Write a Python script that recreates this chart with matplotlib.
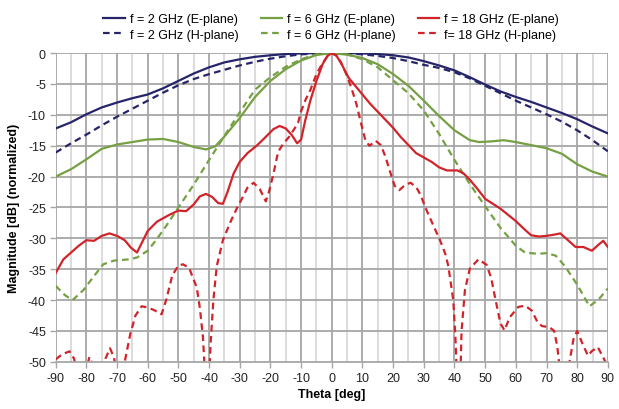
import numpy as np
import matplotlib
matplotlib.use('Agg')
import matplotlib.pyplot as plt

plt.rcParams['font.family'] = ['Liberation Sans', 'DejaVu Sans']
plt.rcParams['axes.unicode_minus'] = False

# --- data ------------------------------------------------------------------
th_2e = [-90, -85, -80, -75, -70, -65, -60, -55, -50, -45, -40, -35, -30, -25, -20, -15, -10, -5, 0,
         5, 10, 15, 20, 25, 30, 35, 40, 45, 50, 55, 60, 65, 70, 75, 80, 85, 90]
db_2e = [-12.2, -11.2, -9.9, -8.8, -8.0, -7.3, -6.7, -5.7, -4.5, -3.3, -2.3, -1.5, -1.0, -0.6, -0.35, -0.15, -0.05, 0, 0,
         0, -0.05, -0.15, -0.35, -0.7, -1.3, -2.0, -2.8, -3.9, -5.1, -6.2, -7.1, -7.9, -8.8, -9.7, -10.7, -11.9, -13.0]

th_2h = th_2e
db_2h = [-16.1, -14.6, -13.2, -11.7, -10.3, -9.0, -7.7, -6.4, -5.2, -4.2, -3.4, -2.7, -2.0, -1.4, -0.9, -0.5, -0.2, -0.05, 0,
         -0.05, -0.2, -0.45, -0.8, -1.3, -1.9, -2.4, -3.1, -4.1, -5.3, -6.5, -7.7, -8.8, -9.9, -11.1, -12.5, -14.1, -15.9]

th_6e = [-90, -85, -80, -75, -70, -65, -60, -55, -50, -45, -41, -38, -35, -32, -30, -25, -20, -15, -10, -5, 0,
         5, 10, 15, 20, 25, 30, 35, 40, 45, 48, 52, 56, 60, 65, 70, 75, 80, 85, 90]
db_6e = [-20.0, -18.8, -17.2, -15.5, -14.8, -14.4, -14.0, -13.9, -14.4, -15.2, -15.6, -15.1, -13.5, -11.7, -10.5, -7.1, -4.5, -2.6, -1.2, -0.3, 0,
         -0.25, -0.8, -1.8, -3.4, -5.3, -7.7, -10.2, -12.5, -14.1, -14.4, -14.3, -14.1, -14.4, -14.9, -15.4, -16.3, -18.0, -19.2, -20.0]

th_6h = [-90, -87, -84.5, -81, -77.5, -74.5, -71, -66, -63.5, -60, -57, -54, -50, -45, -40, -35, -30, -25, -20, -15, -10, -5, 0,
         5, 10, 15, 20, 25, 30, 35, 40, 45, 50, 55, 60, 63, 67, 70, 73, 76, 80, 84, 87, 90]
db_6h = [-37.7, -39.2, -40.0, -38.4, -36.1, -34.2, -33.6, -33.4, -33.1, -32.0, -30.1, -28.0, -25.0, -21.3, -17.3, -13.4, -9.6, -5.9, -3.9, -2.2, -1.0, -0.2, 0,
         -0.2, -1.0, -2.3, -4.4, -6.5, -9.3, -13.1, -17.3, -21.2, -24.8, -28.3, -31.2, -32.3, -32.5, -32.4, -32.8, -34.5, -37.5, -41.0, -39.9, -38.1]

th_18e = [-90, -87.5, -85, -82.5, -80, -77.5, -75, -72.5, -70, -67.5, -65.5, -63.5, -61.5, -60, -57, -53, -50, -47.5, -45,
          -43, -41, -39, -37, -35.5, -34, -32, -30, -27.5, -24.5, -22, -19, -17, -15, -13, -11.3, -10, -8.7, -7, -5, -3, -1.5, 0,
          1.5, 3, 5.5, 8, 10, 12.5, 15, 17.5, 20, 22.5, 25, 27.5, 30, 32.5, 35, 37.5, 41, 43, 45, 47.5, 50, 52.5, 55, 57.5,
          60, 62.5, 65, 67.5, 70, 72.5, 74.5, 77, 79.5, 82, 84.8, 87, 88.5, 90]
db_18e = [-35.6, -33.4, -32.3, -31.2, -30.3, -30.4, -29.6, -29.2, -29.6, -30.3, -31.5, -32.3, -30.3, -28.8, -27.3, -26.2, -25.5, -25.6, -24.5,
          -23.2, -22.8, -23.3, -24.3, -24.4, -22.5, -19.5, -17.6, -16.2, -15.0, -13.8, -12.3, -11.8, -12.2, -13.3, -14.6, -14.0, -11.0, -7.7, -4.5, -1.8, -0.5, 0,
          -0.4, -1.6, -4.0, -5.5, -6.7, -8.2, -9.5, -10.8, -12.1, -13.6, -14.9, -16.2, -16.9, -17.6, -18.5, -19.0, -19.0, -19.5, -20.5, -22.0, -23.6, -24.4, -25.2, -26.2,
          -27.2, -28.4, -29.5, -29.7, -29.6, -29.4, -29.2, -30.3, -31.4, -31.4, -32.0, -31.0, -30.4, -31.4]

th_18h = [-90, -88, -85.5, -84, -82.5, -80.5, -79, -77.5, -75.5, -73.8, -72.3, -71, -69.5, -67.5, -65.7, -64, -62, -60, -58, -55.5,
          -54, -52, -50, -48.5, -46.5, -44, -43, -42, -41, -40.2, -39.5, -38.6, -37.5, -35.5, -33, -31, -29, -27.5, -25.5, -23.5,
          -21.5, -20.5, -19, -17.5, -16, -14, -12.5, -11, -10, -8.5, -7, -5, -3, -1.5, 0,
          1.5, 3, 5, 6.5, 8, 9.5, 11, 12.3, 14.3, 16, 17.5, 19, 20.5, 22, 24, 25.7, 27.5, 29, 30.5, 33, 35.2, 37, 38,
          39.6, 40.3, 41, 41.8, 42.3, 43.4, 45, 47.8, 50.5, 52, 53.2, 55, 56.3, 58, 60.8, 63, 65.2, 67, 68.5, 71, 72.5,
          73.5, 74.3, 75, 76.8, 77.5, 78.8, 80, 81.5, 83.5, 84.7, 86.7, 88.5, 90]
db_18h = [-49.6, -48.8, -48.3, -49.5, -53, -52, -49.2, -51, -54, -49.5, -47.8, -49.3, -54, -50, -45.5, -42.5, -41.0, -41.2, -41.6, -42.3,
          -40, -36, -34.4, -34.2, -34.8, -38, -41.3, -46, -55, -55, -47, -40, -34.5, -30.3, -27.3, -25.2, -23.3, -21.8, -21.0, -22.0,
          -24.0, -22.5, -19.5, -16.0, -14.8, -13.6, -12.5, -11.3, -9.4, -7.5, -6.0, -3.4, -1.6, -0.6, 0,
          -0.4, -1.5, -3.7, -5.8, -8.2, -11.3, -14.2, -15.0, -14.2, -14.9, -16.8, -19.2, -21.5, -22.2, -21.3, -21.0, -21.7, -23.0, -25.0, -27.8, -30.2, -32.5, -34.5,
          -40, -46, -55, -55, -45, -38.4, -34.9, -33.4, -34.3, -36.5, -39.5, -43.8, -44.9, -42.8, -41.1, -40.9, -41.7, -43.5, -44.2, -44.4, -45.0,
          -47.5, -51, -56, -56, -50, -46.3, -45.0, -46.8, -49.0, -48.3, -47.6, -49.3, -50.8]

navy = '#27256a'
green = '#76a043'
red = '#d1232a'
dash = (0, (3.0, 2.0))

fig = plt.figure(figsize=(6.19, 4.10), dpi=100)
ax = fig.add_axes([0.09, 0.115, 0.892, 0.753])

# grid
for x in range(-90, 91, 5):
    ax.axvline(x, color='#a6a6a6' if x % 10 == 0 else '#d9d9d9', lw=1.3, zorder=0)
for y in range(-45, 1, 5):
    ax.axhline(y, color='#a6a6a6', lw=1.3, zorder=0)

kw = dict(lw=1.6, solid_joinstyle='round', dash_joinstyle='round')
ax.plot(th_2e, db_2e, color=navy, label='f = 2 GHz (E-plane)', **kw)
ax.plot(th_2h, db_2h, color=navy, ls=dash, label='f = 2 GHz (H-plane)', **kw)
ax.plot(th_6e, db_6e, color=green, label='f = 6 GHz (E-plane)', **kw)
ax.plot(th_6h, db_6h, color=green, ls=dash, label='f = 6 GHz (H-plane)', **kw)
ax.plot(th_18e, db_18e, color=red, label='f = 18 GHz (E-plane)', **kw)
ax.plot(th_18h, db_18h, color=red, ls=dash, label='f= 18 GHz (H-plane)', **kw)

ax.set_xlim(-90, 90)
ax.set_ylim(-50, 0)
ax.set_xticks(range(-90, 91, 10))
ax.set_yticks(range(-50, 1, 5))
ax.tick_params(axis='both', labelsize=9, colors='#222222', length=4, width=1, pad=3)
ax.tick_params(axis='both', color='#a6a6a6')

for s in ['top', 'right', 'left']:
    ax.spines[s].set_visible(False)
ax.spines['bottom'].set_color('#a6a6a6')
ax.spines['bottom'].set_linewidth(1.3)

ax.set_xlabel('Theta [deg]', fontsize=9, fontweight='bold', labelpad=3)
ax.set_ylabel('Magnitude [dB] (normalized)', fontsize=9, fontweight='bold', labelpad=6)

fig.legend(loc='center', bbox_to_anchor=(0.535, 0.932), ncol=3, frameon=False,
           fontsize=9, handlelength=1.7, handletextpad=0.4, columnspacing=1.8,
           labelspacing=0.3)

plt.savefig('out.png', dpi=100)
plt.close()
